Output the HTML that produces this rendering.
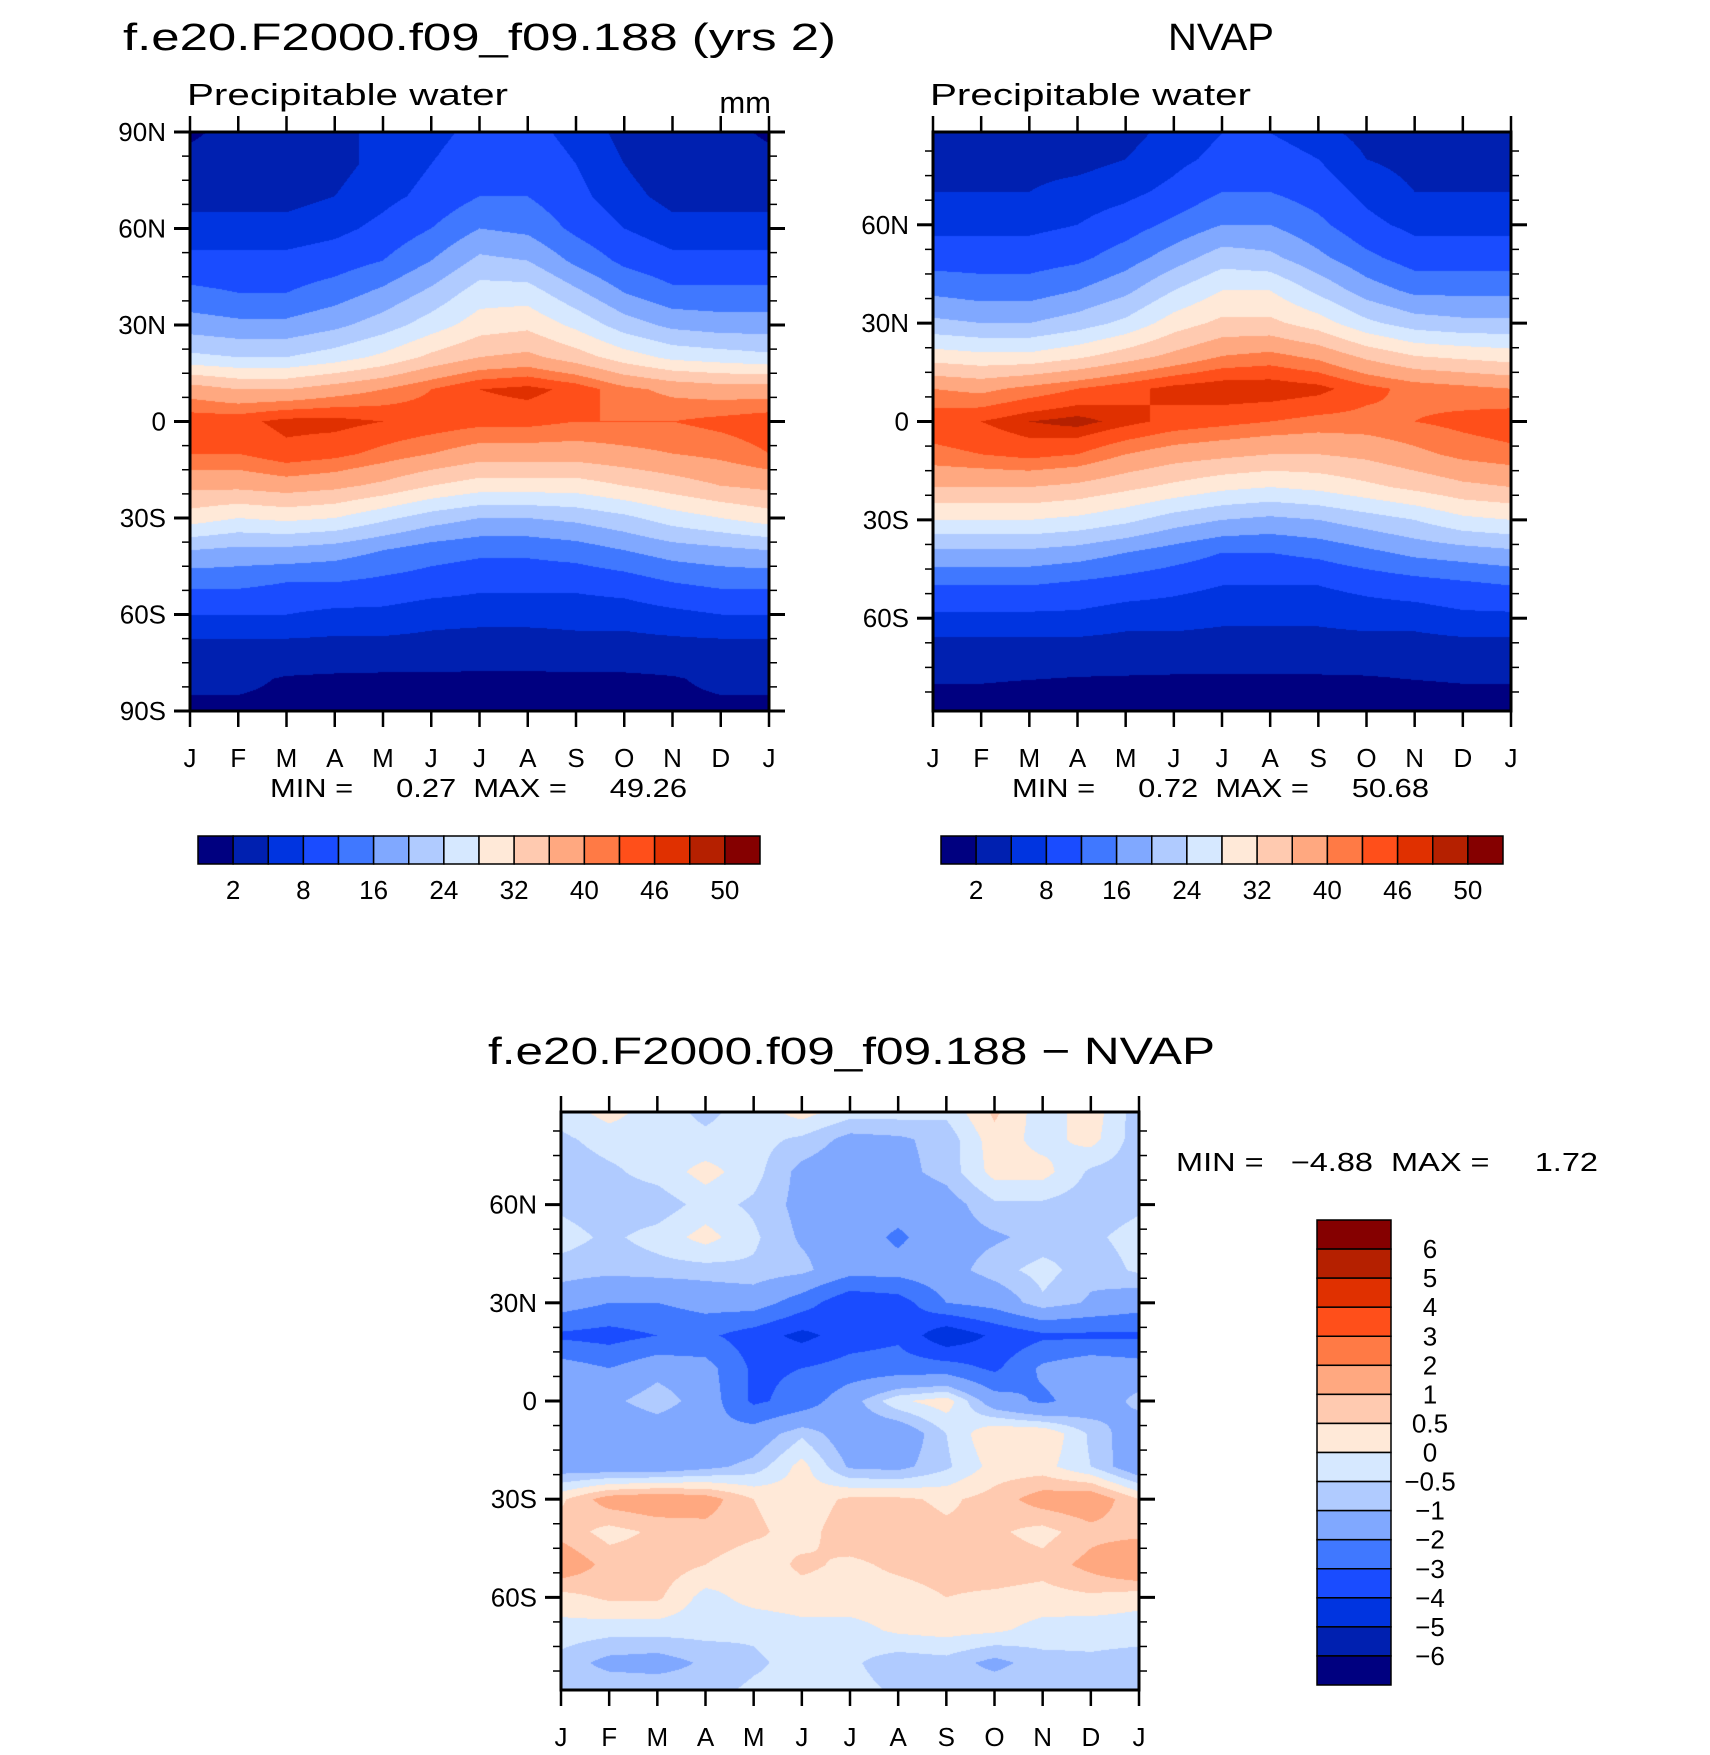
<!DOCTYPE html>
<html><head><meta charset="utf-8">
<style>
html,body{margin:0;padding:0;background:#fff;}
#wrap{position:relative;width:1710px;height:1755px;overflow:hidden;font-family:"Liberation Sans",sans-serif;}
canvas{position:absolute;}
svg{position:absolute;left:0;top:0;}
</style></head>
<body>
<div id="wrap">
<canvas id="c1"></canvas>
<canvas id="c2"></canvas>
<canvas id="c3"></canvas>
<svg id="svg" width="1710" height="1755"></svg>
</div>
<script>
// ---- data ----
const months = ["J","F","M","A","M","J","J","A","S","O","N","D","J"];
const modelLats = [90,80,70,60,50,40,30,20,10,0,-10,-20,-30,-40,-50,-60,-70,-80,-90];
const obsLats = [88,80,70,60,50,40,30,20,10,0,-10,-20,-30,-40,-50,-60,-70,-80,-88];
const modelValues = [
[1.5,3,3,4,6,7,9,9,7,4,3,3,1.5],
[3,3,3,4,6,8,10,10,8,5,3,3,3],
[4,4,4,5,7,9,12,12,9,6,4,4,4],
[6,6,6,7,9,12,16,15,11,8,6,6,6],
[9,9,9,10,12,16,21,20,15,11,9,9,9],
[13,12,12,14,17,21,26,26,21,16,13,13,13],
[18,17,17,19,22,26,30,31,27,22,19,18,18],
[25,24,24,26,29,33,36,37,34,30,27,26,25],
[38,36,36,38,40,43,46,47,45,41,39,38,38],
[45,45,47,47,46,45,44,44,43,43,43,44,45],
[43,43,45,44,42,40,38,38,38,39,40,41,43],
[37,37,38,37,35,32,30,30,30,32,34,36,37],
[30,28,29,28,25,22,20,20,21,23,26,28,30],
[20,19,19,18,16,14,13,13,14,16,18,19,20],
[13,13,12,12,11,10,9,9,9,10,12,13,13],
[8,8,8,7,7,6,6,6,6,6,7,8,8],
[4,4,4,4,4,4,3.5,3.5,4,4,4,4,4],
[2.5,2.5,1.8,1.6,1.5,1.5,1.5,1.5,1.5,1.5,1.8,2.5,2.5],
[1.5,1.5,1.5,1.5,1.5,1.4,1.4,1.4,1.4,1.4,1.5,1.5,1.5]];
const obsValues = [
[3,3,3,3,4,6,8,8,6,4,3,3,3],
[4,4,4,4,5,7,9,10,8,5,4,4,4],
[5,5,5,6,7,9,12,12,10,7,5,5,5],
[7,7,7,8,10,13,16,16,13,9,7,7,7],
[10,10,10,11,14,18,22,21,17,13,10,10,10],
[15,14,14,16,19,24,28,28,23,18,15,15,15],
[21,20,20,22,25,30,33,33,30,25,22,21,21],
[30,29,29,31,34,37,40,41,39,35,32,31,30],
[40,39,41,43,45,47,48,48,47,44,42,41,40],
[45,46,48,49,47,45,44,43,42,42,43,44,45],
[42,43,44,43,40,38,37,36,36,37,39,41,42],
[36,36,36,35,33,31,29,28,29,31,33,35,36],
[28,28,28,27,25,22,20,19,20,22,24,27,28],
[19,19,19,18,16,14,12,12,13,15,17,18,19],
[12,12,12,11,10,9,8,8,8,9,10,11,12],
[7,7,7,7,6,6,5.5,5.5,5.5,6,6,7,7],
[3.5,3.5,3.5,3.5,3.5,3.5,3.5,3.5,3.5,3.5,3.5,3.5,3.5],
[2,2,1.8,1.6,1.5,1.4,1.4,1.4,1.4,1.5,1.8,2,2],
[1.5,1.5,1.5,1.5,1.5,1.5,1.5,1.5,1.5,1.5,1.5,1.5,1.5]];
const diffValues = [
[-0.3,0.2,-0.3,-0.6,-0.3,0.2,-0.3,-0.3,-0.4,0.6,-0.3,0.3,-0.8],
[-0.6,-0.3,-0.3,-0.4,-0.3,-0.6,-1.2,-1.1,-0.8,0.3,-0.2,0.2,-0.8],
[-0.8,-0.6,-0.3,0.2,-0.3,-1.2,-1.5,-1.2,-0.8,0.2,0.2,-0.6,-0.8],
[-0.6,-0.8,-0.8,-0.3,-0.6,-1.2,-1.6,-1.5,-1.3,-0.6,-0.6,-0.8,-0.6],
[-0.3,-0.6,-0.3,0.2,-0.4,-1.1,-1.4,-2.2,-1.3,-1.1,-0.8,-0.6,-0.3],
[-0.7,-0.8,-0.7,-0.7,-0.6,-0.8,-1.6,-1.6,-1.3,-0.7,-0.3,-0.8,-0.4],
[-1.5,-2.0,-2.0,-1.6,-1.5,-2.5,-3.8,-3.5,-2.0,-1.6,-0.6,-1.1,-1.5],
[-3.2,-3.4,-3.0,-2.8,-3.5,-4.3,-3.5,-3.2,-4.8,-3.8,-3.2,-3.2,-3.2],
[-1.5,-2.0,-1.3,-1.6,-3.2,-3.0,-2.6,-2.5,-2.5,-3.2,-1.8,-1.2,-1.5],
[-1.0,-1.2,-0.6,-1.4,-3.2,-2.6,-1.3,-0.1,0.3,-1.5,-2.2,-1.5,-0.8],
[-1.5,-1.8,-1.6,-1.8,-1.5,-0.6,-1.5,-1.6,-0.5,0.5,0.5,-0.6,-1.5],
[-1.4,-1.5,-1.5,-1.2,-0.8,0.2,-1.1,-1.2,-0.6,0.2,0.2,-0.5,-1.6],
[0.4,1.3,1.5,1.3,0.5,0.2,0.6,0.6,0.4,0.7,1.3,1.5,0.5],
[0.8,0.3,0.6,0.8,0.6,0.3,0.8,0.8,0.6,0.6,0.3,0.8,0.8],
[1.5,0.8,0.8,0.5,0.2,0.6,0.4,0.6,0.7,0.8,0.7,1.2,1.8],
[0.3,0.6,0.6,-0.2,0.2,0.3,0.3,0.3,0.5,0.4,0.3,0.4,0.2],
[-0.2,-0.3,-0.3,-0.3,-0.4,-0.2,-0.2,0.1,0.2,0.1,-0.2,-0.3,-0.3],
[-0.7,-1.2,-1.3,-0.9,-0.6,-0.3,-0.4,-0.8,-0.7,-1.2,-0.7,-0.6,-0.7],
[-0.6,-0.6,-0.6,-0.7,-0.4,-0.3,-0.3,-0.6,-0.7,-0.6,-0.6,-0.6,-0.6]];
const pwLevels = [2,5,8,12,16,20,24,28,32,36,40,43,46,48,50];
const pwTickLabels = ["2","8","16","24","32","40","46","50"];
const diffLevels = [-6,-5,-4,-3,-2,-1,-0.5,0,0.5,1,2,3,4,5,6];
const diffTickLabels = ["6","5","4","3","2","1","0.5","0","\u22120.5","\u22121","\u22122","\u22123","\u22124","\u22125","\u22126"];
const colors = ["#000080","#0020b0","#0034e0","#1a4cff","#4078ff","#80a8ff","#b0cbff","#d6e8ff","#ffe9d8","#ffcab0","#ffa880","#ff7a45","#ff4f1a","#e03000","#b52000","#850000"];

// ---- layout ----
const P1 = {x:190,y:132,w:579,h:579,latTop:90,latBot:-90};
const P2 = {x:933,y:132,w:578,h:579,latTop:88.3,latBot:-88.3};
const P3 = {x:561,y:1112,w:578,h:578,latTop:88.3,latBot:-88.3};

function levelIndex(v,levels){let i=0;while(i<levels.length&&v>=levels[i])i++;return i;}
function sample(vals,lats,mf,lat){
  let r=0; while(r<lats.length-2 && lat<lats[r+1]) r++;
  let t=(lats[r]-lat)/(lats[r]-lats[r+1]); t=Math.max(0,Math.min(1,t));
  let c=Math.min(11,Math.floor(mf)); let s=mf-c;
  const a=vals[r][c],b=vals[r][c+1],d=vals[r+1][c],e=vals[r+1][c+1];
  return (a*(1-s)+b*s)*(1-t)+(d*(1-s)+e*s)*t;
}
function drawPanel(id,P,vals,lats,levels){
  const cv=document.getElementById(id);
  cv.width=P.w;cv.height=P.h;cv.style.left=P.x+'px';cv.style.top=P.y+'px';
  const ctx=cv.getContext('2d');
  const img=ctx.createImageData(P.w,P.h);
  const rgb=colors.map(h=>[parseInt(h.slice(1,3),16),parseInt(h.slice(3,5),16),parseInt(h.slice(5,7),16)]);
  for(let y=0;y<P.h;y++){
    const lat=P.latTop-(y+0.5)/P.h*(P.latTop-P.latBot);
    for(let x=0;x<P.w;x++){
      const mf=(x+0.5)/P.w*12;
      const v=sample(vals,lats,mf,lat);
      const c=rgb[levelIndex(v,levels)];
      const k=(y*P.w+x)*4;
      img.data[k]=c[0];img.data[k+1]=c[1];img.data[k+2]=c[2];img.data[k+3]=255;
    }
  }
  ctx.putImageData(img,0,0);
}
drawPanel('c1',P1,modelValues,modelLats,pwLevels);
drawPanel('c2',P2,obsValues,obsLats,pwLevels);
drawPanel('c3',P3,diffValues,obsLats,diffLevels);

// ---- SVG annotations ----
const svg=document.getElementById('svg');
const NS="http://www.w3.org/2000/svg";
function mk(tag,attrs,parent){const e=document.createElementNS(NS,tag);for(const k in attrs)e.setAttribute(k,attrs[k]);(parent||svg).appendChild(e);return e;}
function txt(s,x,y,size,anchor,name,len){
  const a={x:x,y:y,'font-size':size,'text-anchor':anchor||'start','font-family':'Liberation Sans, sans-serif',fill:'#000'};
  if(len){a.textLength=len;a.lengthAdjust='spacingAndGlyphs';}
  const t=mk('text',a);
  t.setAttribute('xml:space','preserve');t.style.whiteSpace='pre';
  t.textContent=s;
  
  
  return t;
}
function axes(P,prefix){
  const g=mk('g',{});
  
  
  const yOf=lat=>P.y+(P.latTop-lat)/(P.latTop-P.latBot)*P.h;
  const border=mk('rect',{x:P.x,y:P.y,width:P.w,height:P.h,fill:'none',stroke:'#000','stroke-width':3},g);
  
  
  for(let i=0;i<13;i++){
    const x=P.x+i*P.w/12;
    mk('line',{x1:x,y1:P.y,x2:x,y2:P.y-16,stroke:'#000','stroke-width':2.5},g);
    mk('line',{x1:x,y1:P.y+P.h,x2:x,y2:P.y+P.h+16,stroke:'#000','stroke-width':2.5},g);
    txt(months[i],x,P.y+P.h+56,26,'middle',prefix+'-month-label');
  }
  for(let lat=-90;lat<=90;lat+=7.5){
    if(lat>P.latTop+0.01||lat<P.latBot-0.01)continue;
    const y=yOf(lat);const major=(Math.abs(lat%30)<0.01);
    const L=major?16:8;
    mk('line',{x1:P.x,y1:y,x2:P.x-L,y2:y,stroke:'#000','stroke-width':major?3:1.5},g);
    mk('line',{x1:P.x+P.w,y1:y,x2:P.x+P.w+L,y2:y,stroke:'#000','stroke-width':major?3:1.5},g);
    if(major){
      const lbl=lat===0?'0':(Math.abs(lat)+(lat>0?'N':'S'));
      txt(lbl,P.x-24,y+9,26,'end',prefix+'-lat-label');
    }
  }
}
axes(P1,'model');axes(P2,'nvap');axes(P3,'diff');

function hbar(x,y,w,h,prefix){
  const g=mk('g',{});
  
  
  const bw=w/colors.length;
  colors.forEach((c,i)=>{
    const r=mk('rect',{x:x+i*bw,y:y,width:bw,height:h,fill:c,stroke:'#000','stroke-width':1.5},g);
    
    
  });
  pwTickLabels.forEach((s,i)=>{
    const bx=x+(2*i+1)*bw;
    txt(s,bx,y+h+35,26,'middle',prefix+'-colorbar-label');
  });
}
hbar(198,836,562,28,'model');
hbar(941,836,562,28,'nvap');
(function(){
  const x=1317,y=1220,w=74,h=465,bh=h/colors.length;
  const g=mk('g',{});
  
  
  for(let i=0;i<colors.length;i++){
    const r=mk('rect',{x:x,y:y+i*bh,width:w,height:bh,fill:colors[colors.length-1-i],stroke:'#000','stroke-width':1.5},g);
    
    
  }
  diffTickLabels.forEach((s,i)=>{
    txt(s,1430,y+(i+1)*bh+9,26,'middle','diff-colorbar-label');
  });
})();

txt('f.e20.F2000.f09_f09.188 (yrs 2)',123,50,38,'start','model-title',713);
txt('NVAP',1168,50,38,'start','nvap-title',106);
txt('Precipitable water',187,105,31,'start','model-subtitle',321);
txt('mm',771,113,31,'end','model-units');
txt('Precipitable water',930,105,31,'start','nvap-subtitle',321);
txt('MIN =     0.27  MAX =     49.26',270,797,26,'start','model-min-max',417);
txt('MIN =     0.72  MAX =     50.68',1012,797,26,'start','nvap-min-max',417);
txt('f.e20.F2000.f09_f09.188 \u2212 NVAP',488,1064,38,'start','diff-title',727);
txt('MIN =   \u22124.88  MAX =     1.72',1176,1171,26,'start','diff-min-max',422);
</script>
</body></html>
